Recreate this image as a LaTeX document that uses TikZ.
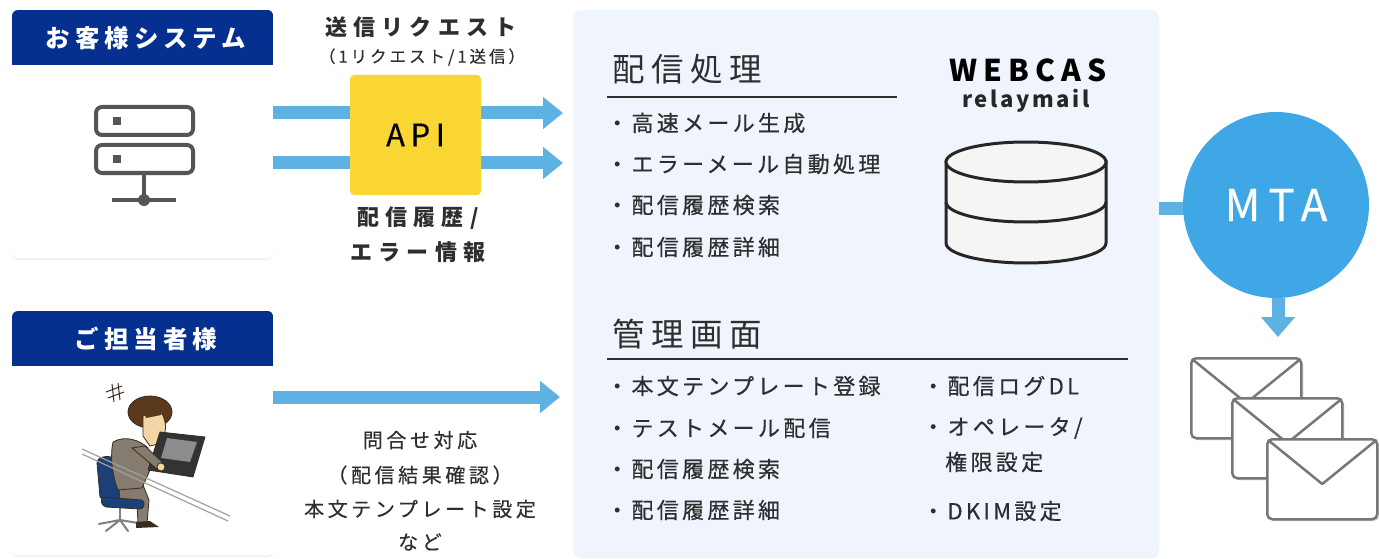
\documentclass[tikz,border=0pt]{standalone}
\usepackage{fontspec}
\setmainfont{Noto Sans CJK JP}
\newfontfamily\jpA[LetterSpace=20]{Noto Sans CJK JP}
\newfontfamily\jpB[LetterSpace=28]{Noto Sans CJK JP}
\newfontfamily\jpC[LetterSpace=12]{Noto Sans CJK JP}
\newfontfamily\jpM[LetterSpace=15,FakeBold=0.5]{Noto Sans CJK JP}
\newfontfamily\jpN[LetterSpace=18,FakeBold=0.4]{Noto Sans CJK JP}
\usetikzlibrary{arrows.meta,shadows}

\definecolor{navy}{HTML}{05308F}
\definecolor{flowblue}{HTML}{5DB2E3}
\definecolor{mtablue}{HTML}{3FA7E6}
\definecolor{apiyellow}{HTML}{FAD634}
\definecolor{panelbg}{HTML}{F0F4FD}
\definecolor{ink}{HTML}{2E2E2E}
\definecolor{icongray}{HTML}{555555}
\definecolor{envgray}{HTML}{777777}
\definecolor{hair}{HTML}{5A3A1B}
\definecolor{skin}{HTML}{F4D5A6}
\definecolor{suit}{HTML}{857C6F}
\definecolor{outline}{HTML}{3A2C1E}
\definecolor{chairblue}{HTML}{1D3F78}
\definecolor{laptop}{HTML}{333333}
\definecolor{screen}{HTML}{8C8C8C}
\definecolor{desk}{HTML}{A0A0A0}

\begin{document}
\begin{tikzpicture}[x=1pt,y=-1pt,
  card/.style={fill=white, rounded corners=6pt, inner sep=0pt, anchor=north west,
    drop shadow={opacity=0.10, shadow xshift=0pt, shadow yshift=-2pt}},
  hdrtext/.style={text=white, font=\jpA\fontsize{24.5}{26}\selectfont\bfseries, inner sep=0pt},
  flow/.style={draw=flowblue, line width=13pt, -{Triangle[width=31pt,length=20pt]}},
  flowbar/.style={draw=flowblue, line width=13pt},
  note/.style={text=ink, font=\jpB\fontsize{22}{24}\selectfont\bfseries, inner sep=0pt},
  subnote/.style={text=ink, font=\jpN\fontsize{16.5}{18}\selectfont, inner sep=0pt},
  memo/.style={text=ink, font=\jpN\fontsize{20}{22}\selectfont, inner sep=0pt},
  sect/.style={text=ink, font=\jpA\fontsize{32.5}{34}\selectfont, inner sep=0pt, anchor=west},
  item/.style={text=ink, font=\jpM\fontsize{22}{24}\selectfont, inner sep=0pt, anchor=west},
  rulel/.style={draw=ink, line width=1.5pt},
  srv/.style={draw=icongray, line width=4pt, rounded corners=6pt},
  envelope/.style={draw=envgray, line width=2.5pt, fill=white, rounded corners=5pt,
    minimum width=110pt, minimum height=80pt, inner sep=0pt, anchor=north west,
    drop shadow={opacity=0.25, shadow xshift=2pt, shadow yshift=-2pt}},
  flap/.style={draw=envgray, line width=2.5pt, line join=round},
  cyl/.style={draw=black!85, line width=3pt, fill=white!96!black},
  figline/.style={draw=outline, line width=0.8pt},
]
\useasboundingbox (0,0) rectangle (1379,559);
\fill[white] (0,0) rectangle (1379,559);

% ---------- client cards ----------
\node[card, minimum width=261pt, minimum height=248pt] (sys) at (12,10) {};
\node[card, minimum width=261pt, minimum height=244pt] (mgr) at (12,311) {};
\begin{scope}
  \clip[rounded corners=6pt] (sys.north west) rectangle (sys.south east);
  \fill[navy] (sys.north west) rectangle ([yshift=-55pt]sys.north east);
\end{scope}
\begin{scope}
  \clip[rounded corners=6pt] (mgr.north west) rectangle (mgr.south east);
  \fill[navy] (mgr.north west) rectangle ([yshift=-55pt]mgr.north east);
\end{scope}
\node[hdrtext] (sysT) at (146,38) {お客様システム};
\node[hdrtext] (mgrT) at (146,339) {ご担当者様};

% server icon
\draw[srv] (96,107) rectangle (193,135);
\draw[srv] (96,145) rectangle (193,173);
\fill[icongray] (113,117) rectangle (121,125);
\fill[icongray] (113,155) rectangle (121,163);
\draw[icongray, line width=4pt] (144,173) -- (144,200);
\draw[icongray, line width=4pt] (112,200) -- (176,200);
\fill[icongray] (144,200) circle (6pt);

% person at a laptop
\fill[chairblue, figline] (97,463) .. controls (97,455) and (112,455) .. (118,460)
  -- (122,495) .. controls (118,502) and (104,502) .. (100,497) -- cycle;
\draw[gray, line width=2.5pt] (120,507) -- (120,520);
\draw[gray, line width=2pt, line cap=round] (120,520) -- (99,524) (120,520) -- (106,531)
  (120,520) -- (128,531) (120,520) -- (138,523);
\fill[suit, figline] (118,480) -- (143,485) -- (149,500) -- (147,524) -- (138,524)
  -- (137,504) -- (120,499) -- cycle;
\fill[outline] (136,522) -- (150,521) -- (159,527) -- (136,528) -- cycle;
\fill[chairblue, figline] (103,497) -- (142,500) .. controls (146,503) and (144,509) .. (140,509)
  -- (106,507) .. controls (101,506) and (100,499) .. (103,497) -- cycle;
\fill[suit, figline] (113,442) .. controls (125,435) and (140,440) .. (148,448)
  -- (150,470) -- (142,488) -- (118,490) .. controls (112,475) and (110,455) .. (113,442) -- cycle;
\fill[hair, figline] (150,412) ellipse [x radius=22pt, y radius=16pt];
\fill[skin, figline] (143,416) -- (160,411) .. controls (166,418) and (166,428) .. (165,432)
  -- (162,443) -- (150,446) -- (143,436) -- cycle;
\fill[hair] (140,400) -- (166,404) -- (161,415) -- (146,418) -- cycle;
\draw[desk, line width=1.2pt] (82,449) -- (230,516);
\draw[desk, line width=1.2pt] (82,454) -- (228,521);
\fill[laptop, figline] (160,432) -- (205,437) -- (193,477) -- (148,470) -- cycle;
\fill[screen] (167,438) -- (197,442) -- (190,462) -- (161,458) -- cycle;
\fill[suit, figline] (132,448) -- (145,446) -- (162,462) -- (158,470) -- cycle;
\fill[skin, figline] (161,467) circle (4pt);
\draw[outline, line width=1pt] (106,392) -- (122,386) (108,398) -- (124,392)
  (112,384) -- (114,402) (118,383) -- (120,400);

% ---------- central panel ----------
\node[card, fill=panelbg, rounded corners=8pt, minimum width=586pt, minimum height=546pt] (panel) at (573,10) {};

% request arrows and API
\coordinate (in1) at (563,113);
\coordinate (in2) at (563,163);
\coordinate (in3) at (560,397);
\draw[flow] (sys.east |- in1) -- (in1);
\draw[flow] (sys.east |- in2) -- (in2);
\draw[flow] (mgr.east |- in3) -- (in3);
\node[fill=apiyellow, rounded corners=4pt, minimum width=131pt, minimum height=120pt,
  text=black, font=\jpN\fontsize{31}{32}\selectfont] (api) at (415.5,135) {API};

\node[note] (req) at (421,27) {送信リクエスト};
\node[subnote] (reqsub) at (422,57) {（1リクエスト/1送信）};
\node[note] (hist1) at (418,218) {配信履歴/};
\node[note] (hist2) at (418,252) {エラー情報};

\node[memo] (m1) at (420,440) {問合せ対応};
\node[memo] (m2) at (420,475) {（配信結果確認）};
\node[memo] (m3) at (420,509) {本文テンプレート設定};
\node[memo] (m4) at (420,542) {など};

% delivery processing
\node[sect] (s1) at (612,69) {配信処理};
\draw[rulel] (607,97) -- (897,97);
\node[item] (a1) at (606,123) {・高速メール生成};
\node[item] (a2) at (606,164) {・エラーメール自動処理};
\node[item] (a3) at (606,205) {・配信履歴検索};
\node[item] (a4) at (606,247) {・配信履歴詳細};

% product logo and store
\node[text=black, font=\jpA\fontsize{30}{32}\selectfont\bfseries, inner sep=0pt] (logo) at (1028,70) {WEBCAS};
\node[text=black!85, font=\jpC\fontsize{22}{24}\selectfont\bfseries, inner sep=0pt] (logo2) at (1026,101) {relaymail};
\filldraw[cyl] (946,162) -- (946,243) arc[start angle=180, end angle=360, x radius=80pt, y radius=20pt]
  -- (1106,162) -- cycle;
\draw[cyl, fill=none] (946,202) arc[start angle=180, end angle=360, x radius=80pt, y radius=20pt];
\filldraw[cyl] (1026,162) ellipse [x radius=80pt, y radius=20pt];

% management console
\node[sect] (s2) at (612,334) {管理画面};
\draw[rulel] (607,359) -- (1128,359);
\node[item] (b1) at (606,386) {・本文テンプレート登録};
\node[item] (b2) at (606,428) {・テストメール配信};
\node[item] (b3) at (606,469) {・配信履歴検索};
\node[item] (b4) at (606,510) {・配信履歴詳細};
\node[item] (c1) at (922,386) {・配信ログDL};
\node[item] (c2) at (922,428) {・オペレータ/};
\node[item] (c3) at (945,462) {権限設定};
\node[item] (c4) at (922,511) {・DKIM設定};

% ---------- MTA and outgoing mail ----------
\coordinate (mtaIn) at (1200,208);
\draw[flowbar] (panel.east |- mtaIn) -- (mtaIn);
\node[circle, fill=mtablue, minimum size=186pt, inner sep=0pt, text=white,
  font=\jpN\fontsize{44}{48}\selectfont] (mta) at (1276,205) {MTA};
\coordinate (mtaOut) at (1278,337);
\draw[flow, -{Triangle[width=33pt,length=20pt]}] (mta.south -| mtaOut) -- (mtaOut);

\node[envelope] (env1) at (1190,357) {};
\draw[flap] ([xshift=2pt,yshift=-2pt]env1.north west) -- ([yshift=-46pt]env1.north) -- ([xshift=-2pt,yshift=-2pt]env1.north east);
\node[envelope] (env2) at (1231,397) {};
\draw[flap] ([xshift=2pt,yshift=-2pt]env2.north west) -- ([yshift=-46pt]env2.north) -- ([xshift=-2pt,yshift=-2pt]env2.north east);
\node[envelope] (env3) at (1266,438) {};
\draw[flap] ([xshift=2pt,yshift=-2pt]env3.north west) -- ([yshift=-46pt]env3.north) -- ([xshift=-2pt,yshift=-2pt]env3.north east);
\end{tikzpicture}
\end{document}
